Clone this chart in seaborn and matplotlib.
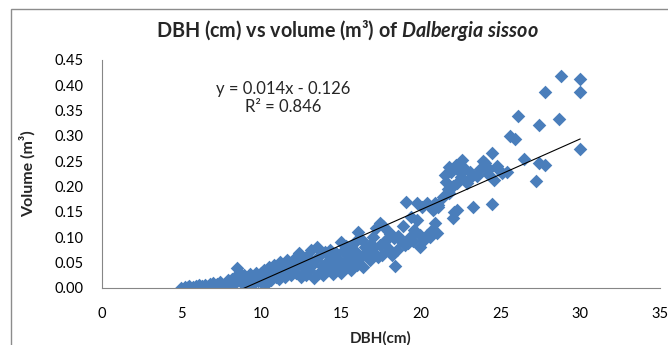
import pandas as pd
import numpy as np
import seaborn as sns
import matplotlib.pyplot as plt
from matplotlib.patches import Rectangle

# DBH (cm) and volume (m3), grouped by DBH range
dbh = [
    # 5 - 10 cm
    5.0, 5.2, 5.4, 5.5, 5.7, 5.9, 6.0, 6.1, 6.3, 6.5, 6.6, 6.8, 6.9,
    7.0, 7.1, 7.2, 7.4, 7.5, 7.6, 7.8, 7.9, 8.0, 8.1, 8.2, 8.3, 8.4,
    8.5, 8.6, 8.7, 8.8, 8.9, 9.0, 9.1, 9.2, 9.3, 9.4, 9.5, 9.6, 9.7, 9.8,
    # 10 - 12.7 cm
    10.0, 10.0, 10.1, 10.2, 10.3, 10.4, 10.5, 10.6, 10.7, 10.8, 10.9,
    11.0, 11.1, 11.2, 11.3, 11.4, 11.5, 11.6, 11.7, 11.8, 11.9, 12.0,
    12.1, 12.2, 12.3, 12.4, 12.5, 12.6, 12.7,
    # 12.8 - 16.5 cm
    12.8, 12.9, 13.0, 13.1, 13.2, 13.3, 13.4, 13.5, 13.6, 13.7, 13.8,
    13.9, 14.0, 14.1, 14.2, 14.3, 14.4, 14.5, 14.6, 14.7, 14.8, 14.9,
    15.0, 15.0, 15.1, 15.2, 15.3, 15.4, 15.5, 15.6, 15.7, 15.8, 15.9,
    16.0, 16.0, 16.1, 16.2, 16.3, 16.4, 16.5,
    # 16.6 - 21 cm
    16.6, 16.8, 16.8, 17.0, 17.0, 17.2, 17.3, 17.45, 17.45, 17.6,
    17.65, 17.8, 17.9, 18.0, 18.1, 18.2, 18.3, 18.4, 18.5, 18.7,
    18.9, 19.0, 19.1, 19.2, 19.4, 19.6, 19.75, 19.75, 19.95, 19.95,
    20.1, 20.2, 20.4, 20.4, 20.6, 20.7, 20.8, 20.8, 20.9, 21.0, 21.1,
    17.1, 17.7, 18.0, 18.6, 19.3, 19.5,
    # 21 - 26 cm
    20.9, 21.1, 21.4, 21.8, 22.0, 22.1, 22.3, 21.5, 21.6, 21.8,
    22.2, 22.3, 22.5, 22.6, 22.9, 23.1, 23.3, 23.7, 24.0, 24.2,
    24.5, 24.5, 24.6, 24.8, 25.1, 25.4, 25.6, 25.9, 22.0, 22.8,
    23.5, 21.9, 23.0, 24.3, 22.4, 21.7, 23.9, 24.9,
    # large trees
    26.1, 27.4, 28.7, 28.8, 30.0, 27.8, 30.0, 26.5, 27.4, 27.8, 27.2, 30.0,
]
volume = [
    0.000, 0.002, 0.001, 0.003, 0.002, 0.004, 0.001, 0.005, 0.003, 0.006, 0.002, 0.008, 0.004,
    0.010, 0.003, 0.007, 0.012, 0.006, 0.002, 0.010, 0.015, 0.005, 0.012, 0.018, 0.008, 0.022,
    0.038, 0.030, 0.015, 0.010, 0.025, 0.020, 0.003, 0.012, 0.028, 0.018, 0.008, 0.022, 0.030, 0.014,
    0.030, 0.012, 0.020, 0.035, 0.008, 0.025, 0.040, 0.015, 0.030, 0.045, 0.022,
    0.035, 0.018, 0.050, 0.028, 0.040, 0.022, 0.055, 0.032, 0.045, 0.025, 0.038,
    0.058, 0.030, 0.048, 0.068, 0.022, 0.040, 0.055,
    0.025, 0.062, 0.035, 0.075, 0.045, 0.020, 0.055, 0.080, 0.030, 0.065, 0.042,
    0.025, 0.070, 0.050, 0.035, 0.075, 0.060, 0.028, 0.045, 0.068, 0.038, 0.055,
    0.090, 0.030, 0.072, 0.048, 0.082, 0.040, 0.062, 0.035, 0.075, 0.050, 0.090,
    0.045, 0.068, 0.110, 0.058, 0.095, 0.040, 0.080,
    0.070, 0.084, 0.055, 0.071, 0.100, 0.117, 0.060, 0.127, 0.084, 0.065,
    0.121, 0.095, 0.081, 0.110, 0.107, 0.065, 0.098, 0.042, 0.075, 0.094,
    0.121, 0.085, 0.170, 0.088, 0.140, 0.114, 0.134, 0.167, 0.104, 0.081,
    0.160, 0.095, 0.104, 0.167, 0.100, 0.114, 0.108, 0.154, 0.128, 0.108, 0.163,
    0.080, 0.090, 0.072, 0.102, 0.100, 0.092,
    0.167, 0.160, 0.180, 0.187, 0.138, 0.150, 0.154, 0.223, 0.209, 0.239,
    0.243, 0.206, 0.219, 0.252, 0.206, 0.229, 0.159, 0.235, 0.246, 0.225,
    0.267, 0.166, 0.213, 0.240, 0.226, 0.229, 0.300, 0.294, 0.200, 0.235,
    0.220, 0.228, 0.215, 0.235, 0.230, 0.195, 0.250, 0.232,
    0.339, 0.322, 0.333, 0.418, 0.412, 0.386, 0.387, 0.255, 0.247, 0.242, 0.211, 0.275,
]

# linear trendline as printed on the chart
slope = 0.014
intercept = -0.126
r_squared = 0.846

df = pd.DataFrame({'dbh': dbh, 'volume': volume})

sns.set_style('white')
plt.rcParams['font.family'] = ['Lato', 'DejaVu Sans']
plt.rcParams['mathtext.fontset'] = 'custom'
plt.rcParams['mathtext.it'] = 'Lato:italic:bold'
plt.rcParams['mathtext.rm'] = 'Lato:bold'

fig = plt.figure(figsize=(6.68, 3.45), dpi=100)
# outer chart-area border
fig.patches.append(Rectangle((11 / 668, -0.2), 1.2, 1.2 - 9 / 345, transform=fig.transFigure,
                             fill=False, edgecolor='#8c8c8c', linewidth=1.0))

ax = fig.add_axes([0.1522, 0.1661, 0.8358, 0.660])
sns.scatterplot(data=df, x='dbh', y='volume', marker='D', s=48, color='#4a7ebb',
                linewidth=0, ax=ax, zorder=2)

xs = np.array([df['dbh'].min(), df['dbh'].max()])
ax.plot(xs, slope * xs + intercept, color='black', lw=0.8, zorder=3)

ax.set_xlim(0, 35)
ax.set_ylim(0, 0.45)
ax.set_xticks(np.arange(0, 36, 5))
ax.set_yticks(np.arange(0, 0.451, 0.05))
ax.set_yticklabels(['%.2f' % v for v in np.arange(0, 0.451, 0.05)])

for side in ['top', 'right']:
    ax.spines[side].set_visible(False)
for side in ['left', 'bottom']:
    ax.spines[side].set_color('#868686')
    ax.spines[side].set_linewidth(0.8)
ax.tick_params(axis='both', which='major', direction='out', length=4, width=0.8,
               color='#868686', labelsize=10.5, labelcolor='black')
ax.tick_params(axis='y', pad=9)
ax.tick_params(axis='x', pad=10)

ax.set_xlabel('DBH(cm)', fontsize=11, fontweight='bold')
ax.xaxis.set_label_coords(0.5, -0.19)
ax.set_ylabel('Volume (m³)', fontsize=11.5, fontweight='bold')
ax.yaxis.set_label_coords(-0.118, 0.5)

ax.text(11.37, 0.393, 'y = %.3fx - %.3f' % (slope, -intercept), ha='center', va='center', fontsize=12)
ax.text(11.37, 0.357, 'R² = %.3f' % r_squared, ha='center', va='center', fontsize=12)

fig.text(0.52, 0.913, r'DBH (cm) vs volume (m³) of $\mathit{Dalbergia\ sissoo}$',
         ha='center', va='center', fontsize=14.2, fontweight='bold')

plt.savefig('out.png', dpi=100)
